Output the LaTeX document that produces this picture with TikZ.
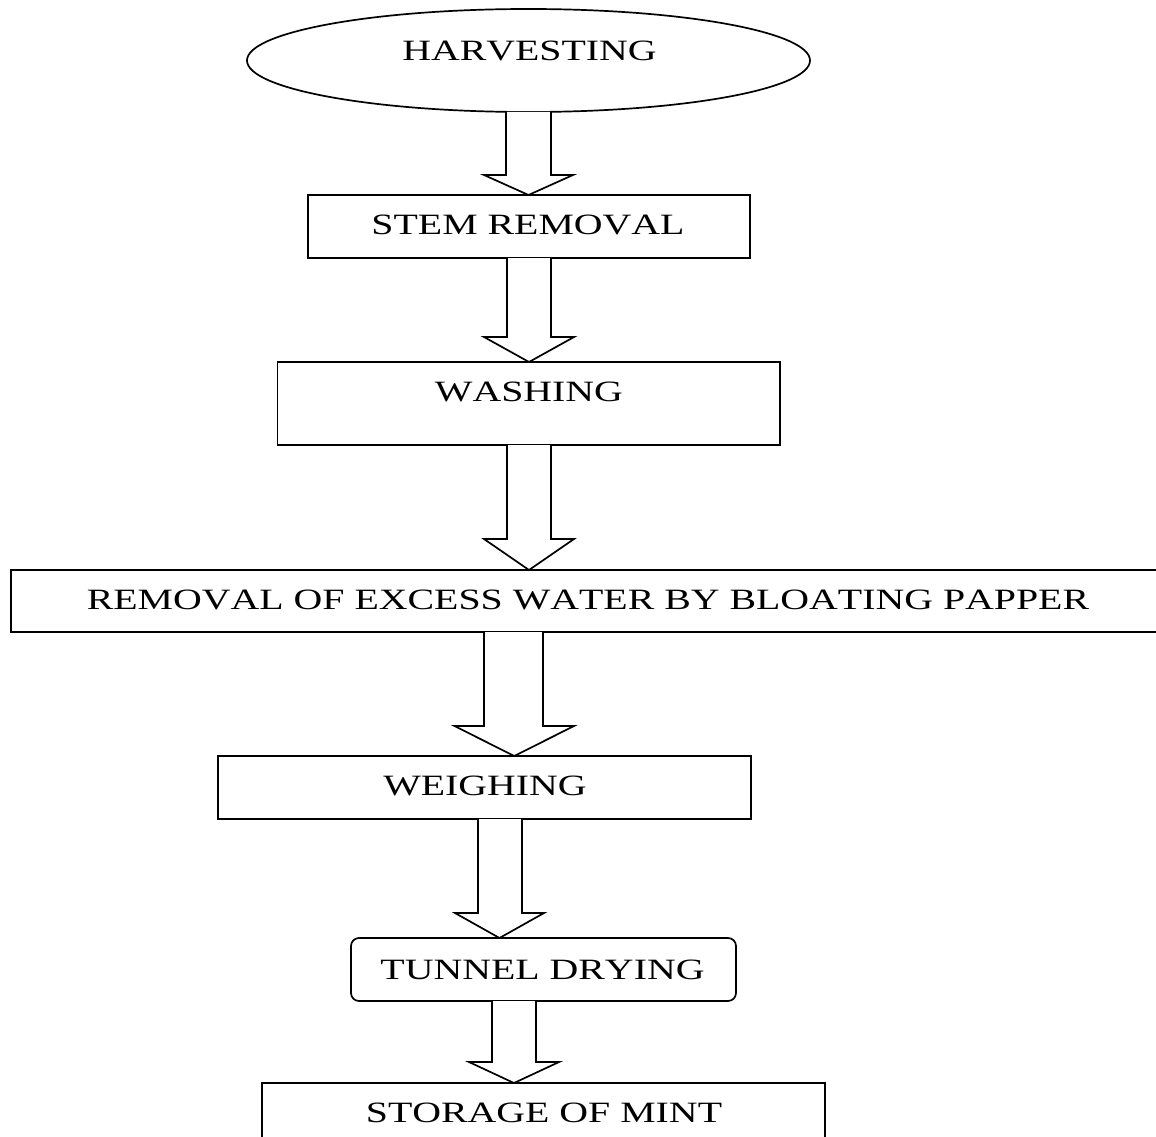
\documentclass[tikz,border=0pt]{standalone}
\usepackage{fontspec}
\usepackage{graphicx}
\setmainfont{Liberation Serif}[Kerning=Off]
\usetikzlibrary{shapes.geometric,calc}
\tikzset{
  stepline/.style={draw=black, line width=1.7pt},
  rectbox/.style={stepline, rectangle, inner sep=0pt, outer sep=0pt},
  ovalbox/.style={stepline, ellipse, inner sep=0pt, outer sep=0pt},
  lbl/.style={inner sep=0pt, font=\fontsize{29.5}{35}\selectfont},
  blockarr/.style={draw=black, line width=1.7pt, fill=white, line join=miter}
}
\newcommand{\wtext}[1]{\scalebox{1.35}[1]{#1}}
% from, to, shaft left, shaft right, head left, head right, head length
\newcommand{\flowarrow}[7]{%
  \draw[blockarr] let \p1=(#1.south), \p2=(#2.north) in
    (#3pt,\y1) -- (#3pt,{\y2+#7pt}) -- (#5pt,{\y2+#7pt}) --
    ({(#5pt+#6pt)/2},\y2) -- (#6pt,{\y2+#7pt}) -- (#4pt,{\y2+#7pt}) -- (#4pt,\y1);
}
\begin{document}
\begin{tikzpicture}
\useasboundingbox (0pt,0pt) rectangle (1156pt,-1137pt);
\clip (0pt,0pt) rectangle (1156pt,-1137pt);
\fill[white] (0pt,0pt) rectangle (1156pt,-1137pt);

% boxes
\node[ovalbox, minimum width=563pt, minimum height=103pt] (harv) at (528.5pt,-60.5pt) {};
\node[rectbox, minimum width=442pt, minimum height=63pt] (stem) at (529pt,-226.5pt) {};
\node[rectbox, minimum width=502.5pt, minimum height=83pt] (wash) at (528.75pt,-403.5pt) {};
\node[rectbox, minimum width=1159pt, minimum height=62pt] (remo) at (590.5pt,-601pt) {};
\node[rectbox, minimum width=533pt, minimum height=63pt] (weig) at (484.4pt,-787.5pt) {};
\node[rectbox, rounded corners=8pt, minimum width=385pt, minimum height=63pt] (tunn) at (543.5pt,-969.5pt) {};
\node[rectbox, minimum width=563pt, minimum height=120pt] (stor) at (543.5pt,-1143pt) {};

% labels
\node[lbl] (tharv) at (529.5pt,-50.5pt) {\wtext{HARVESTING}};
\node[lbl] (tstem) at (528pt,-225pt) {\wtext{STEM REMOVAL}};
\node[lbl] (twash) at (529pt,-392pt) {\wtext{WASHING}};
\node[lbl] (tremo) at (588pt,-600pt) {\wtext{REMOVAL OF EXCESS WATER BY BLOATING PAPPER}};
\node[lbl] (tweig) at (485pt,-786pt) {\wtext{WEIGHING}};
\node[lbl] (ttunn) at (542.5pt,-969.5pt) {\wtext{TUNNEL DRYING}};
\node[lbl] (tstor) at (544pt,-1112.5pt) {\wtext{STORAGE OF MINT}};

% arrows
\flowarrow{harv}{stem}{506}{551}{484}{573}{20}
\flowarrow{stem}{wash}{507}{551}{484}{574}{25}
\flowarrow{wash}{remo}{507}{551}{484}{574}{31}
\flowarrow{remo}{weig}{484}{543}{454.5}{574}{30}
\flowarrow{weig}{tunn}{478}{522}{455}{544}{25}
\flowarrow{tunn}{stor}{492}{536}{469}{559}{21}
\end{tikzpicture}
\end{document}
